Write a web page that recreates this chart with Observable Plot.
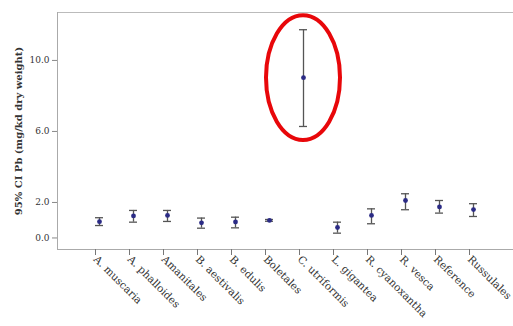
<!DOCTYPE html>
<html>
<head>
<meta charset="utf-8">
<script src="https://cdn.jsdelivr.net/npm/d3@7"></script>
<script src="https://cdn.jsdelivr.net/npm/@observablehq/plot@0.6"></script>
<style>
  html, body { margin: 0; padding: 0; background: #fff; }
  #chart svg { display: block; }
</style>
</head>
<body>
<div id="chart"></div>
<script>
const categories = ["A. muscaria", "A. phalloides", "Amanitales", "B. aestivalis", "B. edulis", "Boletales",
  "C. utriformis", "L. gigantea", "R. cyanoxantha", "R. vesca", "Reference", "Russulales"];
const means = [0.92, 1.24, 1.27, 0.85, 0.90, 0.99, 9.03, 0.59, 1.27, 2.11, 1.75, 1.60];
const lower = [0.70, 0.89, 0.93, 0.55, 0.57, 0.94, 6.28, 0.27, 0.80, 1.59, 1.40, 1.21];
const upper = [1.14, 1.55, 1.55, 1.12, 1.17, 1.04, 11.73, 0.89, 1.64, 2.49, 2.11, 1.93];
const yTicks = [0, 2, 6, 10];
const highlighted = "C. utriformis";
const yLabel = "95% CI Pb (mg/kd dry weight)";

const data = categories.map((c, i) => ({cat: c, mean: means[i], lo: lower[i], hi: upper[i]}));
const serif = "'DejaVu Serif', serif";

const ellipseMark = (index, scales) => {
  const d = data.find(e => e.cat === highlighted);
  const cx = scales.x(d.cat) + scales.x.bandwidth() / 2;
  const yTop = scales.y(d.hi), yBot = scales.y(d.lo);
  const cy = (yTop + yBot) / 2;
  const ry = (yBot - yTop) / 2 + 14;
  const rx = 37;
  const el = document.createElementNS("http://www.w3.org/2000/svg", "ellipse");
  el.setAttribute("cx", cx);
  el.setAttribute("cy", cy);
  el.setAttribute("rx", rx);
  el.setAttribute("ry", ry);
  el.setAttribute("fill", "none");
  el.setAttribute("stroke", "#e8070a");
  el.setAttribute("stroke-width", 4);
  return el;
};

const chart = Plot.plot({
  width: 513,
  height: 326,
  marginLeft: 57,
  marginTop: 12,
  marginBottom: 77,
  marginRight: 0,
  style: {fontFamily: serif, background: "#fff", color: "#333"},
  x: {type: "band", domain: categories, paddingInner: 0.77, paddingOuter: 1.035, align: 0.513},
  y: {domain: [-0.65, 12.7]},
  marks: [
    Plot.frame({anchor: "top", stroke: "#bbb"}),
    Plot.frame({anchor: "left", stroke: "#aaa"}),
    Plot.frame({anchor: "bottom", stroke: "#aaa"}),
    Plot.axisY(yTicks, {tickFormat: d3.format(".1f"), tickSize: 5, tickPadding: 3, fontSize: 9, stroke: "#888", label: null}),
    Plot.axisX({tickRotate: 45, tickSize: 6, tickPadding: 2, fontSize: 10.5, stroke: "#777", label: null, dx: -4}),
    Plot.text([yLabel], {frameAnchor: "left", textAnchor: "middle", rotate: -90, dx: -39, fontSize: 10, fontWeight: "bold", fill: "#333"}),
    Plot.ruleX(data, {x: "cat", y1: "lo", y2: "hi", stroke: "#555", strokeWidth: 1.3}),
    Plot.tickY(data, {x: "cat", y: "lo", stroke: "#555", strokeWidth: 1.3}),
    Plot.tickY(data, {x: "cat", y: "hi", stroke: "#555", strokeWidth: 1.3}),
    Plot.dot(data, {x: "cat", y: "mean", r: 2.4, fill: "#2b2b85", stroke: "none"}),
    ellipseMark
  ]
});
document.getElementById("chart").appendChild(chart);
</script>
</body>
</html>
